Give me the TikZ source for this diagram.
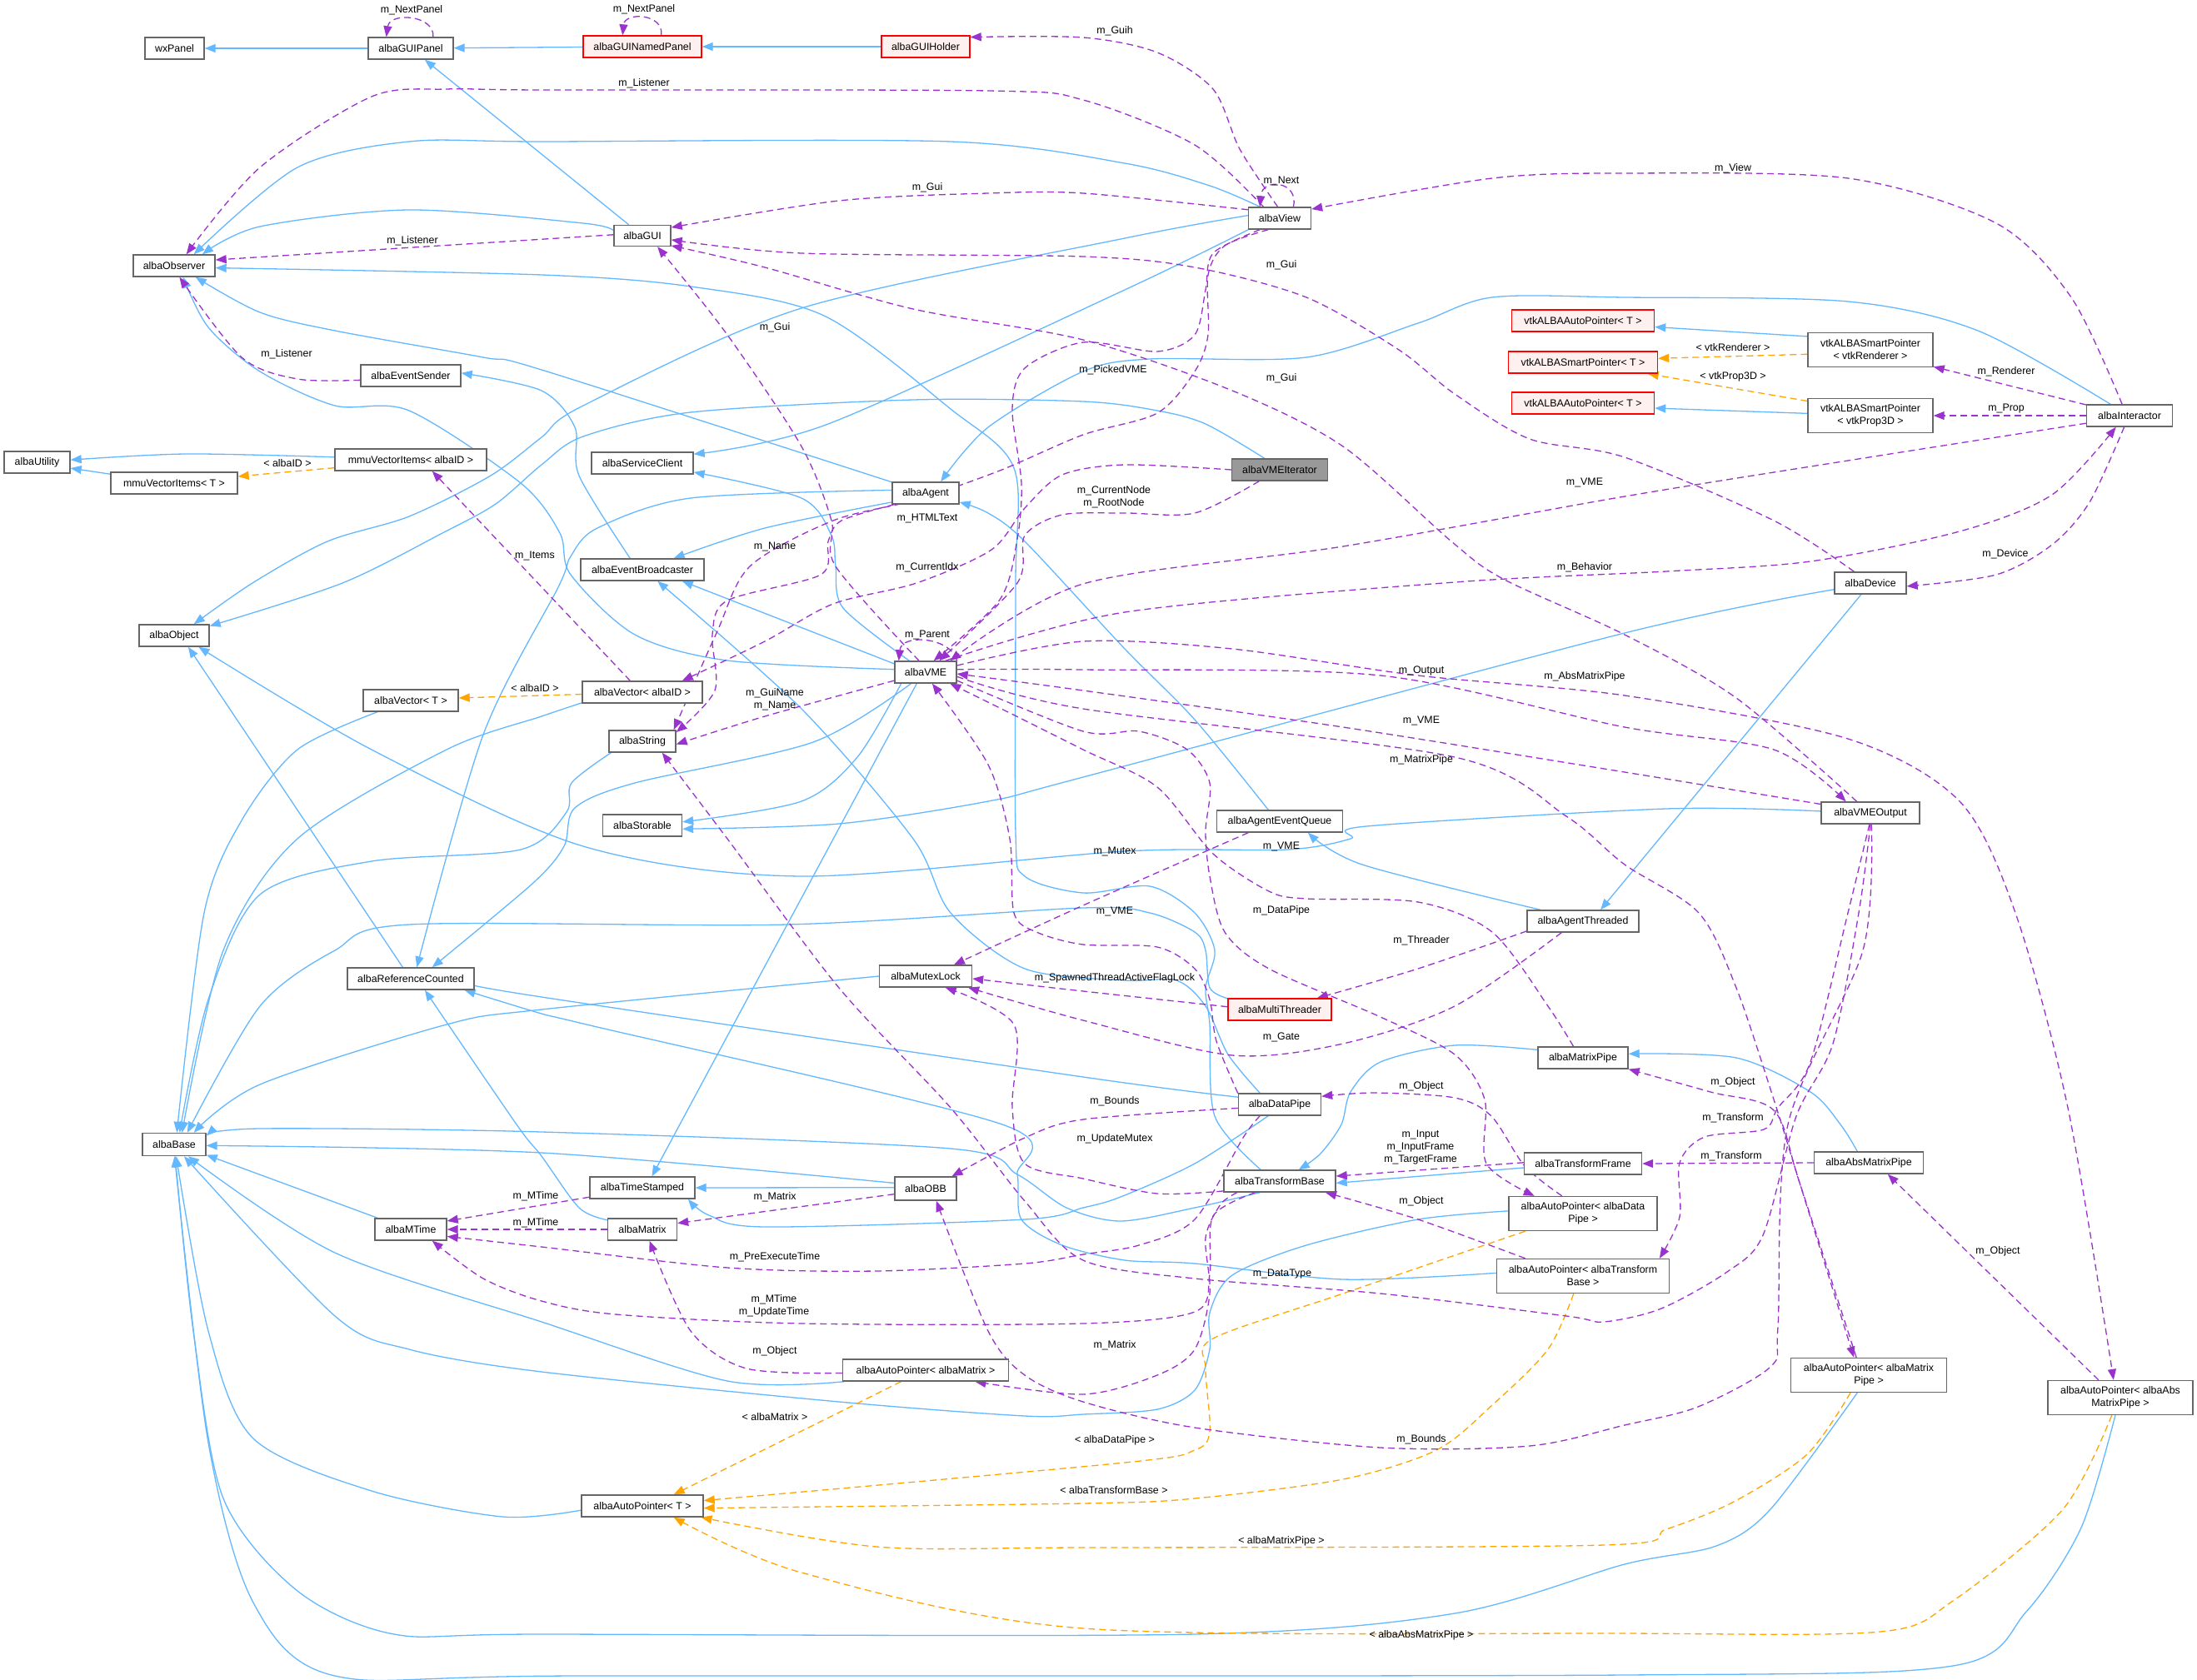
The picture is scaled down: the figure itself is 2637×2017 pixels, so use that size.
\documentclass[tikz,border=0pt]{standalone}
\usepackage{fontspec}
\setmainfont{Liberation Sans}
\usetikzlibrary{arrows.meta}
\definecolor{inhblue}{HTML}{63B8FF}
\definecolor{usepurple}{HTML}{9A32CD}
\definecolor{tplorange}{HTML}{FFA500}
\definecolor{nodegray}{HTML}{666666}
\definecolor{redfill}{HTML}{FFF0F0}
\definecolor{grayfill}{HTML}{999999}
\pgfdeclarelayer{edges}
\pgfsetlayers{edges,main}
\begin{document}
\begin{tikzpicture}[x=1pt,y=-1pt,font=\fontsize{12.4}{15}\selectfont,
  cls/.style={draw=nodegray,fill=white,line width=1.4pt,inner sep=0pt,minimum height=26pt,align=center},
  redcls/.style={cls,draw=red,fill=redfill},
  graycls/.style={cls,fill=grayfill},
  tall/.style={minimum height=41pt},
  lab/.style={inner sep=0pt,align=center},
  inh/.style={draw=inhblue,line width=1.3pt,-{Triangle[length=13pt,width=10pt]}},
  use/.style={draw=usepurple,line width=1.3pt,dash pattern=on 8pt off 5pt,-{Triangle[length=13pt,width=10pt]}},
  tpl/.style={draw=tplorange,line width=1.3pt,dash pattern=on 8pt off 5pt,-{Triangle[length=13pt,width=10pt]}}]
\useasboundingbox (0,0) rectangle (2637,2017);
% ---------------- nodes
\node[cls,minimum width=71pt] (wxPanel) at (209.5,58) {wxPanel};
\node[cls,minimum width=102pt] (GUIPanel) at (493,58) {albaGUIPanel};
\node[redcls,minimum width=142pt] (GUINamed) at (771,56) {albaGUINamedPanel};
\node[redcls,minimum width=106pt] (GUIHolder) at (1111,56) {albaGUIHolder};
\node[cls,minimum width=98pt] (Observer) at (209,319) {albaObserver};
\node[cls,minimum width=68pt,minimum height=25pt] (GUI) at (771,283) {albaGUI};
\node[cls,minimum width=75pt] (View) at (1536,262) {albaView};
\node[cls,minimum width=120pt] (EvSender) at (493,451) {albaEventSender};
\node[cls,minimum width=79pt] (Utility) at (44.5,555) {albaUtility};
\node[cls,minimum width=182pt] (mmuID) at (493,552) {mmuVectorItems< albaID >};
\node[cls,minimum width=152pt] (mmuT) at (209,580) {mmuVectorItems< T >};
\node[cls,minimum width=122pt] (ServiceClient) at (771,556) {albaServiceClient};
\node[cls,minimum width=80pt] (Agent) at (1111,592) {albaAgent};
\node[graycls,minimum width=115pt] (VMEIter) at (1536,564) {albaVMEIterator};
\node[redcls,minimum width=171pt] (vtkAP1) at (1900,385) {vtkALBAAutoPointer< T >};
\node[redcls,minimum width=179pt] (vtkSPT) at (1900,435) {vtkALBASmartPointer< T >};
\node[redcls,minimum width=171pt] (vtkAP2) at (1900,484) {vtkALBAAutoPointer< T >};
\node[cls,tall,minimum width=150pt] (vtkSPRen) at (2245,420) {vtkALBASmartPointer\\< vtkRenderer >};
\node[cls,tall,minimum width=150pt] (vtkSPProp) at (2245,499) {vtkALBASmartPointer\\< vtkProp3D >};
\node[cls,minimum width=103pt] (Interactor) at (2556,499) {albaInteractor};
\node[cls,minimum width=148pt] (EvBroad) at (771,684) {albaEventBroadcaster};
\node[cls,minimum width=86pt] (Device) at (2245,700) {albaDevice};
\node[cls,minimum width=84pt] (Object) at (209,763) {albaObject};
\node[cls,minimum width=74pt] (VME) at (1111,807) {albaVME};
\node[cls,minimum width=114pt] (VectorT) at (493,841) {albaVector< T >};
\node[cls,minimum width=144pt] (VectorID) at (771,831) {albaVector< albaID >};
\node[cls,minimum width=80pt] (String) at (771,890) {albaString};
\node[cls,minimum width=95pt] (Storable) at (771,991) {albaStorable};
\node[cls,minimum width=151pt] (AgentEQ) at (1536,986) {albaAgentEventQueue};
\node[cls,minimum width=118pt] (VMEOutput) at (2245,976) {albaVMEOutput};
\node[cls,minimum width=152pt] (RefCounted) at (493,1175) {albaReferenceCounted};
\node[cls,minimum width=111pt] (MutexLock) at (1111,1172) {albaMutexLock};
\node[cls,minimum width=134pt] (AgentThreaded) at (1900,1106) {albaAgentThreaded};
\node[redcls,minimum width=124pt] (MultiThreader) at (1536,1212) {albaMultiThreader};
\node[cls,minimum width=108pt] (MatrixPipe) at (1900,1270) {albaMatrixPipe};
\node[cls,minimum width=99pt] (DataPipe) at (1536,1326) {albaDataPipe};
\node[cls,minimum width=76pt,minimum height=27pt] (Base) at (209,1374) {albaBase};
\node[cls,minimum width=141pt] (TransformFrame) at (1900,1397) {albaTransformFrame};
\node[cls,minimum width=131pt] (AbsMatrixPipe) at (2243,1396) {albaAbsMatrixPipe};
\node[cls,minimum width=126pt] (TimeStamped) at (771,1426) {albaTimeStamped};
\node[cls,minimum width=74pt,minimum height=28pt] (OBB) at (1111,1427) {albaOBB};
\node[cls,minimum width=134pt] (TransformBase) at (1536,1418) {albaTransformBase};
\node[cls,minimum width=86pt] (MTime) at (493,1476) {albaMTime};
\node[cls,minimum width=83pt] (Matrix) at (771,1476) {albaMatrix};
\node[cls,tall,minimum width=178pt] (apDataPipe) at (1900,1457) {albaAutoPointer< albaData\\Pipe >};
\node[cls,tall,minimum width=207pt] (apTB) at (1900,1532) {albaAutoPointer< albaTransform\\Base >};
\node[cls,minimum width=199pt] (apMatrix) at (1111,1645) {albaAutoPointer< albaMatrix >};
\node[cls,tall,minimum width=187pt] (apMP) at (2243,1651) {albaAutoPointer< albaMatrix\\Pipe >};
\node[cls,tall,minimum width=174pt] (apAMP) at (2545,1678) {albaAutoPointer< albaAbs\\MatrixPipe >};
\node[cls,minimum width=146pt] (apT) at (771,1808) {albaAutoPointer< T >};
% ---------------- edges
\begin{pgfonlayer}{edges}
\fill[white] (0,0) rectangle (2637,2017);
% inheritance
\draw[inh] (GUIPanel) -- (wxPanel);
\draw[inh] (GUINamed) -- (GUIPanel);
\draw[inh] (GUIHolder) -- (GUINamed);
\draw[inh] (GUI) -- (GUIPanel);
\draw[inh] plot[smooth] coordinates {(GUI.170) (700,268) (491,252) (312,272) (Observer.22)};
\draw[inh] plot[smooth] coordinates {(View.150) (1452,223) (1350,196) (1141,170) (650,170) (491,170) (357,201) (Observer.30)};
\draw[inh] plot[smooth] coordinates {(View.175) (1350,286) (962,370) (700,487) (650,525) (589,571) (491,620) (393,650) (303,700) (Object.30)};
\draw[inh] plot[smooth] coordinates {(View.-160) (1350,348) (994,509) (ServiceClient.10)};
\draw[inh] plot[smooth] coordinates {(Agent.162) (650,444) (580,429) (402,397) (312,375) (Observer.-28)};
\draw[inh] plot[smooth] coordinates {(VME.175) (873,793) (762,762) (685,690) (672,640) (625,580) (491,493) (402,487) (312,446) (250,393) (Observer.-52)};
\draw[inh] plot[smooth] coordinates {(EvBroad.137) (695,571) (690,513) (650,469) (EvSender.3)};
\draw[inh] plot[smooth] coordinates {(Agent.-165) (918,634) (EvBroad.20)};
\draw[inh] (VME.165) -- (EvBroad.-16);
\draw[inh] plot[smooth] coordinates {(DataPipe.150) (1474,1266) (1447,1208) (1412,1177) (1350,1177) (1230,1163) (1141,1096) (1096,1007) (962,851) (EvBroad.-37)};
\draw[inh] plot[smooth] coordinates {(mmuID.178) (223,545) (Utility.4)};
\draw[inh] (mmuT.172) -- (Utility.-10);
\draw[inh] plot[smooth] coordinates {(VMEIter.143) (1447,509) (1389,493) (1300,482) (1096,480) (829,495) (700,524) (650,558) (595,605) (531,640) (411,700) (Object.15)};
\draw[inh] (RefCounted.125) -- (Object.-39);
\draw[inh] plot[smooth] coordinates {(VMEOutput.178) (2000,971) (1640,992) (1621,1007) (1545,1020) (1350,1022) (962,1052) (700,1016) (446,900) (Object.-25)};
\draw[inh] plot[smooth] coordinates {(String.-160) (686,940) (680,975) (625,1020) (446,1034) (312,1074) (250,1200) (Base.65)};
\draw[inh] plot[smooth] coordinates {(VectorID.-170) (650,860) (536,900) (357,1007) (268,1141) (Base.56)};
\draw[inh] plot[smooth] coordinates {(VectorT.-161) (357,900) (290,985) (245,1096) (Base.77)};
\draw[inh] plot[smooth] coordinates {(MultiThreader.168) (1452,1186) (1447,1141) (1434,1119) (1380,1096) (1300,1090) (945,1110) (491,1110) (402,1141) (312,1208) (Base.42)};
\draw[inh] plot[smooth] coordinates {(MutexLock.180) (650,1212) (536,1230) (312,1302) (Base.31)};
\draw[inh] plot[smooth] coordinates {(DataPipe.170) (1300,1293) (650,1197) (RefCounted.-5)};
\draw[inh] plot[smooth] coordinates {(apTB.178) (1612,1536) (1434,1517) (1350,1513) (1275,1495) (1226,1464) (1221,1410) (1203,1350) (704,1230) (650,1217) (RefCounted.-12)};
\draw[inh] plot[smooth] coordinates {(Agent.175) (829,598) (717,634) (685,668) (670,705) (580,882) (RefCounted.62)};
\draw[inh] plot[smooth] coordinates {(VME.-142) (976,891) (762,940) (690,970) (677,1016) (640,1060) (RefCounted.28)};
\draw[inh] plot[smooth] coordinates {(Matrix.165) (695,1450) (650,1388) (620,1350) (RefCounted.-39)};
\draw[inh] plot[smooth] coordinates {(VME.-155) (1029,909) (962,962) (Storable.5)};
\draw[inh] plot[smooth] coordinates {(Device.-170) (1950,760) (1300,933) (1186,962) (1007,989) (Storable.-5)};
\draw[inh] (VME.-128) -- (TimeStamped.50);
\draw[inh] plot[smooth] coordinates {(VME.145) (1012,730) (1003,680) (998,643) (962,598) (ServiceClient.-10)};
\draw[inh] (OBB.178) -- (TimeStamped.0);
\draw[inh] plot[smooth] coordinates {(DataPipe.-135) (1434,1397) (1345,1437) (1300,1450) (1230,1464) (918,1473) (851,1459) (TimeStamped.-14)};
\draw[inh] plot[smooth] coordinates {(TransformBase.-150) (1434,1450) (1345,1466) (1280,1450) (1221,1410) (1141,1379) (650,1359) (312,1355) (Base.15)};
\draw[inh] plot[smooth] coordinates {(OBB.170) (650,1384) (Base.-2)};
\draw[inh] (MTime.161) -- (Base.-18);
\draw[inh] plot[smooth] coordinates {(apMatrix.-172) (873,1658) (650,1587) (402,1504) (Base.-40)};
\draw[inh] plot[smooth] coordinates {(apDataPipe.178) (1702,1464) (1568,1495) (1479,1531) (1452,1576) (1452,1620) (1434,1669) (1389,1692) (1300,1698) (1230,1700) (1007,1683) (650,1647) (491,1620) (402,1580) (Base.-50)};
\draw[inh] plot[smooth] coordinates {(apT.-176) (603,1821) (446,1790) (304,1727) (250,1598) (Base.-80)};
\draw[inh] plot[smooth] coordinates {(apMP.-123) (2125,1812) (2060,1856) (1950,1878) (1746,1937) (1434,1962) (650,1962) (473,1962) (357,1910) (268,1799) (232,1598) (Base.-85)};
\draw[inh] plot[smooth] coordinates {(apAMP.-106) (2498,1834) (2432,1935) (2344,2000) (1950,2011) (700,2012) (402,2012) (304,1924) (250,1732) (Base.-88)};
\draw[inh] (TransformFrame.-176) -- (TransformBase.-2);
\draw[inh] plot[smooth] coordinates {(MatrixPipe.170) (1746,1255) (1657,1275) (1621,1311) (1610,1350) (1585,1385) (TransformBase.31)};
\draw[inh] plot[smooth] coordinates {(AbsMatrixPipe.135) (2209,1350) (2173,1311) (2084,1270) (MatrixPipe.5)};
\draw[inh] plot[smooth] coordinates {(TransformBase.149) (1458,1340) (1452,1230) (1447,1186) (1458,1141) (1434,1096) (1380,1064) (1300,1072) (1230,1052) (1219,1000) (1219,700) (1217,562) (1141,491) (989,379) (829,344) (650,330) (Observer.-3)};
\draw[inh] plot[smooth] coordinates {(AgentEQ.135) (1434,864) (1350,779) (1230,650) (1186,616) (Agent.-15)};
\draw[inh] plot[smooth] coordinates {(AgentThreaded.165) (1635,1038) (AgentEQ.-22)};
\draw[inh] (Device.-129) -- (AgentThreaded.33);
\draw[inh] plot[smooth] coordinates {(Interactor.149) (2374,397) (2218,362) (1950,357) (1791,357) (1702,388) (1568,429) (1380,431) (1300,446) (1186,513) (Agent.37)};
\draw[inh] (vtkSPRen.168) -- (vtkAP1.-5);
\draw[inh] (vtkSPProp.178) -- (vtkAP2.-4);
% template instances
\draw[tpl] (mmuID.-174) -- (mmuT.6);
\draw[tpl] (VectorID.-178) -- (VectorT.3);
\draw[tpl] (vtkSPRen.-176) -- (vtkSPT.3);
\draw[tpl] (vtkSPProp.167) -- (vtkSPT.-10);
\draw[tpl] (apMatrix.-155) -- (apT.20);
\draw[tpl] plot[smooth] coordinates {(apDataPipe.-163) (1612,1553) (1456,1607) (1447,1643) (1452,1718) (1434,1741) (1350,1756) (apT.5)};
\draw[tpl] plot[smooth] coordinates {(apTB.-118) (1858,1620) (1791,1687) (1724,1741) (1612,1776) (1434,1799) (1300,1805) (apT.-2)};
\draw[tpl] plot[smooth] coordinates {(apMP.-136) (2169,1746) (2081,1803) (2000,1836) (1925,1855) (1300,1858) (1052,1857) (apT.-11)};
\draw[tpl] plot[smooth] coordinates {(apAMP.-116) (2476,1812) (2344,1922) (2257,1959) (1950,1961) (1300,1955) (962,1888) (apT.-20)};
% usage
\draw[use] (GUIPanel.27) .. controls (522,18) and (468,14) .. (GUIPanel.155);
\draw[use] (GUINamed.31) .. controls (797,16) and (750,14) .. (GUINamed.150);
\draw[use] (View.40) .. controls (1560,218) and (1515,212) .. (View.150);
\draw[use] (VME.20) .. controls (1142,765) and (1082,760) .. (VME.157);
\draw[use] plot[smooth] coordinates {(View.100) (1488,179) (1456,107) (1389,63) (1300,45) (GUIHolder.12)};
\draw[use] plot[smooth] coordinates {(View.145) (1434,174) (1300,120) (1186,109) (650,108) (536,107) (446,116) (312,201) (Observer.43)};
\draw[use] (GUI.178) -- (Observer.8);
\draw[use] plot[smooth] coordinates {(EvSender.-175) (357,455) (290,429) (Observer.-65)};
\draw[use] plot[smooth] coordinates {(View.165) (1300,232) (1186,232) (1007,241) (GUI.16)};
\draw[use] plot[smooth] coordinates {(Device.145) (2129,625) (1950,549) (1836,527) (1746,473) (1679,420) (1568,357) (1434,321) (1300,308) (962,304) (GUI.-8)};
\draw[use] plot[smooth] coordinates {(VMEOutput.140) (2084,838) (1950,762) (1804,695) (1742,650) (1612,536) (1479,469) (1300,408) (1096,371) (918,321) (GUI.-19)};
\draw[use] plot[smooth] coordinates {(VME.120) (1003,680) (998,625) (962,536) (873,402) (GUI.-36)};
\draw[use] plot[smooth] coordinates {(Interactor.123) (2486,357) (2396,268) (2218,214) (1950,208) (1791,214) (View.16)};
\draw[use] (Interactor.166) -- (vtkSPRen.-15);
\draw[use] (Interactor.180) -- (vtkSPProp.0);
\draw[use] plot[smooth] coordinates {(Interactor.-115) (2508,603) (2463,654) (2396,690) (Device.-5)};
\draw[use] plot[smooth] coordinates {(VME.30) (1350,735) (1746,699) (2000,686) (2173,674) (2352,638) (2463,594) (Interactor.-140)};
\draw[use] plot[smooth] coordinates {(Interactor.-170) (2218,553) (1950,596) (1612,656) (1300,701) (VME.25)};
\draw[use] plot[smooth] coordinates {(VMEIter.-151) (1434,616) (1350,616) (1275,618) (1230,643) (1221,700) (VME.40)};
\draw[use] plot[smooth] coordinates {(VMEIter.180) (1350,558) (1275,570) (1230,610) (1190,660) (1100,700) (1000,725) (918,770) (VectorID.16)};
\draw[use] plot[smooth] coordinates {(View.-150) (1456,304) (1447,348) (1434,402) (1389,422) (1300,411) (1230,442) (1215,491) (1226,580) (1221,647) (1200,720) (VME.55)};
\draw[use] plot[smooth] coordinates {(View.-135) (1470,295) (1450,330) (1450,402) (1434,446) (1389,496) (1300,522) (1200,565) (1100,600) (1000,625) (900,680) (860,760) (String.20)};
\draw[use] plot[smooth] coordinates {(Agent.-160) (1010,625) (994,650) (985,690) (873,721) (855,762) (858,829) (String.15)};
\draw[use] plot[smooth] coordinates {(VME.-165) (918,860) (String.-5)};
\draw[use] plot[smooth] coordinates {(VME.5) (1300,804) (1657,811) (1950,873) (2129,900) (VMEOutput.155)};
\draw[use] plot[smooth] coordinates {(VMEOutput.170) (1950,927) (1612,873) (1300,829) (VME.-3)};
\draw[use] plot[smooth] coordinates {(VME.12) (1300,770) (1479,779) (1702,811) (1950,835) (2218,887) (2352,962) (2419,1096) (2482,1330) (apAMP.111)};
\draw[use] plot[smooth] coordinates {(VME.-8) (1300,851) (1746,909) (1880,980) (1950,1038) (2039,1096) (2084,1186) (2129,1320) (2160,1420) (apMP.130)};
\draw[use] plot[smooth] coordinates {(VME.-15) (1300,878) (1367,878) (1425,900) (1452,940) (1447,998) (1452,1052) (1470,1119) (1523,1163) (1657,1221) (1746,1266) (1782,1320) (1784,1397) (apDataPipe.160)};
\draw[use] plot[smooth] coordinates {(MatrixPipe.130) (1858,1208) (1791,1119) (1702,1083) (1568,1079) (1523,1070) (1456,1025) (1389,945) (1300,900) (1200,850) (VME.-25)};
\draw[use] plot[smooth] coordinates {(DataPipe.165) (1460,1250) (1452,1200) (1434,1163) (1389,1137) (1300,1134) (1244,1119) (1217,1096) (1212,1007) (1186,918) (VME.-60)};
\draw[use] plot[smooth] coordinates {(AgentEQ.-160) (1300,1087) (MutexLock.22)};
\draw[use] plot[smooth] coordinates {(MultiThreader.177) (1300,1190) (MutexLock.-3)};
\draw[use] plot[smooth] coordinates {(AgentThreaded.-152) (1746,1208) (1612,1253) (1479,1267) (1300,1225) (MutexLock.-15)};
\draw[use] plot[smooth] coordinates {(AgentThreaded.-170) (1702,1163) (MultiThreader.17)};
\draw[use] plot[smooth] coordinates {(TransformBase.-170) (1389,1433) (1300,1415) (1230,1397) (1215,1330) (1217,1230) (MutexLock.-30)};
\draw[use] plot[smooth] coordinates {(DataPipe.-175) (1300,1344) (1230,1366) (OBB.25)};
\draw[use] plot[smooth] coordinates {(apDataPipe.140) (1830,1400) (1790,1340) (1746,1318) (1650,1312) (DataPipe.11)};
\draw[use] plot[smooth] coordinates {(apMP.125) (2160,1420) (2129,1333) (2053,1311) (MatrixPipe.-14)};
\draw[use] (TransformFrame.179) -- (TransformBase.5);
\draw[use] plot[smooth] coordinates {(apTB.163) (1702,1464) (TransformBase.-14)};
\draw[use] (AbsMatrixPipe.180) -- (TransformFrame.0);
\draw[use] plot[smooth] coordinates {(VMEOutput.-95) (2218,1096) (2173,1275) (2134,1330) (2117,1356) (2046,1365) (2016,1396) (2016,1461) (apTB.13)};
\draw[use] plot[smooth] coordinates {(VMEOutput.-85) (2236,1141) (2146,1350) (2134,1593) (2125,1641) (2038,1689) (1950,1711) (1836,1736) (1657,1738) (1434,1714) (1300,1683) (1230,1651) (1186,1598) (OBB.-49)};
\draw[use] plot[smooth] coordinates {(VMEOutput.-90) (2231,1096) (2200,1253) (2156,1340) (2116,1483) (2073,1527) (1994,1571) (1925,1587) (1880,1580) (1657,1553) (1434,1535) (1300,1513) (1230,1442) (1141,1330) (1007,1186) (873,1007) (String.-30)};
\draw[use] plot[smooth] coordinates {(TransformBase.-165) (1465,1446) (1447,1486) (1452,1553) (1434,1620) (1389,1651) (1300,1674) (apMatrix.-13)};
\draw[use] (OBB.-170) -- (Matrix.10);
\draw[use] (TimeStamped.-170) -- (MTime.13);
\draw[use] (Matrix.180) -- (MTime.0);
\draw[use] plot[smooth] coordinates {(DataPipe.-150) (1492,1366) (1434,1464) (1367,1495) (1300,1506) (1230,1517) (1052,1526) (873,1522) (650,1497) (MTime.-11)};
\draw[use] plot[smooth] coordinates {(TransformBase.-155) (1456,1460) (1452,1530) (1434,1575) (1300,1589) (962,1589) (739,1578) (650,1562) (580,1535) (MTime.-28)};
\draw[use] plot[smooth] coordinates {(apMatrix.-178) (896,1643) (829,1598) (Matrix.-58)};
\draw[use] (apAMP.141) -- (AbsMatrixPipe.-31);
\draw[use] (VectorID.137) -- (mmuID.-28);
\end{pgfonlayer}
% ---------------- labels
\node[lab] (l01) at (494,12) {m\_NextPanel};
\node[lab] (l02) at (773,11) {m\_NextPanel};
\node[lab] (l03) at (1338,37) {m\_Guih};
\node[lab] (l04) at (773,100) {m\_Listener};
\node[lab] (l05) at (495,289) {m\_Listener};
\node[lab] (l06) at (344,425) {m\_Listener};
\node[lab] (l07) at (1113,225) {m\_Gui};
\node[lab] (l08) at (1538,217) {m\_Next};
\node[lab] (l09) at (2080,202) {m\_View};
\node[lab] (l10) at (1538,318) {m\_Gui};
\node[lab] (l11) at (930,393) {m\_Gui};
\node[lab] (l12) at (1538,454) {m\_Gui};
\node[lab] (l13) at (2080,417) {< vtkRenderer >};
\node[lab] (l14) at (2080,452) {< vtkProp3D >};
\node[lab] (l15) at (2408,446) {m\_Renderer};
\node[lab] (l16) at (2408,491) {m\_Prop};
\node[lab] (l17) at (1336,444) {m\_PickedVME};
\node[lab] (l18) at (345,556) {< albaID >};
\node[lab] (l19) at (1902,579) {m\_VME};
\node[lab] (l20) at (1337,597) {m\_CurrentNode\\m\_RootNode};
\node[lab] (l21) at (1113,622) {m\_HTMLText};
\node[lab] (l22) at (930,656) {m\_Name};
\node[lab] (l23) at (642,667) {m\_Items};
\node[lab] (l24) at (2407,665) {m\_Device};
\node[lab] (l25) at (1113,681) {m\_CurrentIdx};
\node[lab] (l26) at (1902,681) {m\_Behavior};
\node[lab] (l27) at (1113,762) {m\_Parent};
\node[lab] (l28) at (1706,805) {m\_Output};
\node[lab] (l29) at (1902,812) {m\_AbsMatrixPipe};
\node[lab] (l30) at (642,826) {< albaID >};
\node[lab] (l31) at (930,840) {m\_GuiName\\m\_Name};
\node[lab] (l32) at (1706,865) {m\_VME};
\node[lab] (l33) at (1706,912) {m\_MatrixPipe};
\node[lab] (l34) at (1538,1016) {m\_VME};
\node[lab] (l35) at (1338,1022) {m\_Mutex};
\node[lab] (l36) at (1538,1093) {m\_DataPipe};
\node[lab] (l37) at (1338,1094) {m\_VME};
\node[lab] (l38) at (1706,1129) {m\_Threader};
\node[lab] (l39) at (1338,1174) {m\_SpawnedThreadActiveFlagLock};
\node[lab] (l40) at (1538,1245) {m\_Gate};
\node[lab] (l41) at (2080,1299) {m\_Object};
\node[lab] (l42) at (1706,1304) {m\_Object};
\node[lab] (l43) at (1338,1322) {m\_Bounds};
\node[lab] (l44) at (2080,1342) {m\_Transform};
\node[lab] (l45) at (1705,1378) {m\_Input\\m\_InputFrame\\m\_TargetFrame};
\node[lab] (l46) at (1338,1367) {m\_UpdateMutex};
\node[lab] (l47) at (2078,1388) {m\_Transform};
\node[lab] (l48) at (643,1436) {m\_MTime};
\node[lab] (l49) at (930,1437) {m\_Matrix};
\node[lab] (l50) at (1706,1442) {m\_Object};
\node[lab] (l51) at (643,1468) {m\_MTime};
\node[lab] (l52) at (2398,1502) {m\_Object};
\node[lab] (l53) at (930,1509) {m\_PreExecuteTime};
\node[lab] (l54) at (1539,1530) {m\_DataType};
\node[lab] (l55) at (929,1568) {m\_MTime\\m\_UpdateTime};
\node[lab] (l56) at (1338,1615) {m\_Matrix};
\node[lab] (l57) at (930,1622) {m\_Object};
\node[lab] (l58) at (930,1701) {< albaMatrix >};
\node[lab] (l59) at (1338,1729) {< albaDataPipe >};
\node[lab] (l60) at (1706,1728) {m\_Bounds};
\node[lab] (l61) at (1337,1789) {< albaTransformBase >};
\node[lab] (l62) at (1538,1850) {< albaMatrixPipe >};
\node[lab] (l63) at (1706,1963) {< albaAbsMatrixPipe >};
\end{tikzpicture}
\end{document}
